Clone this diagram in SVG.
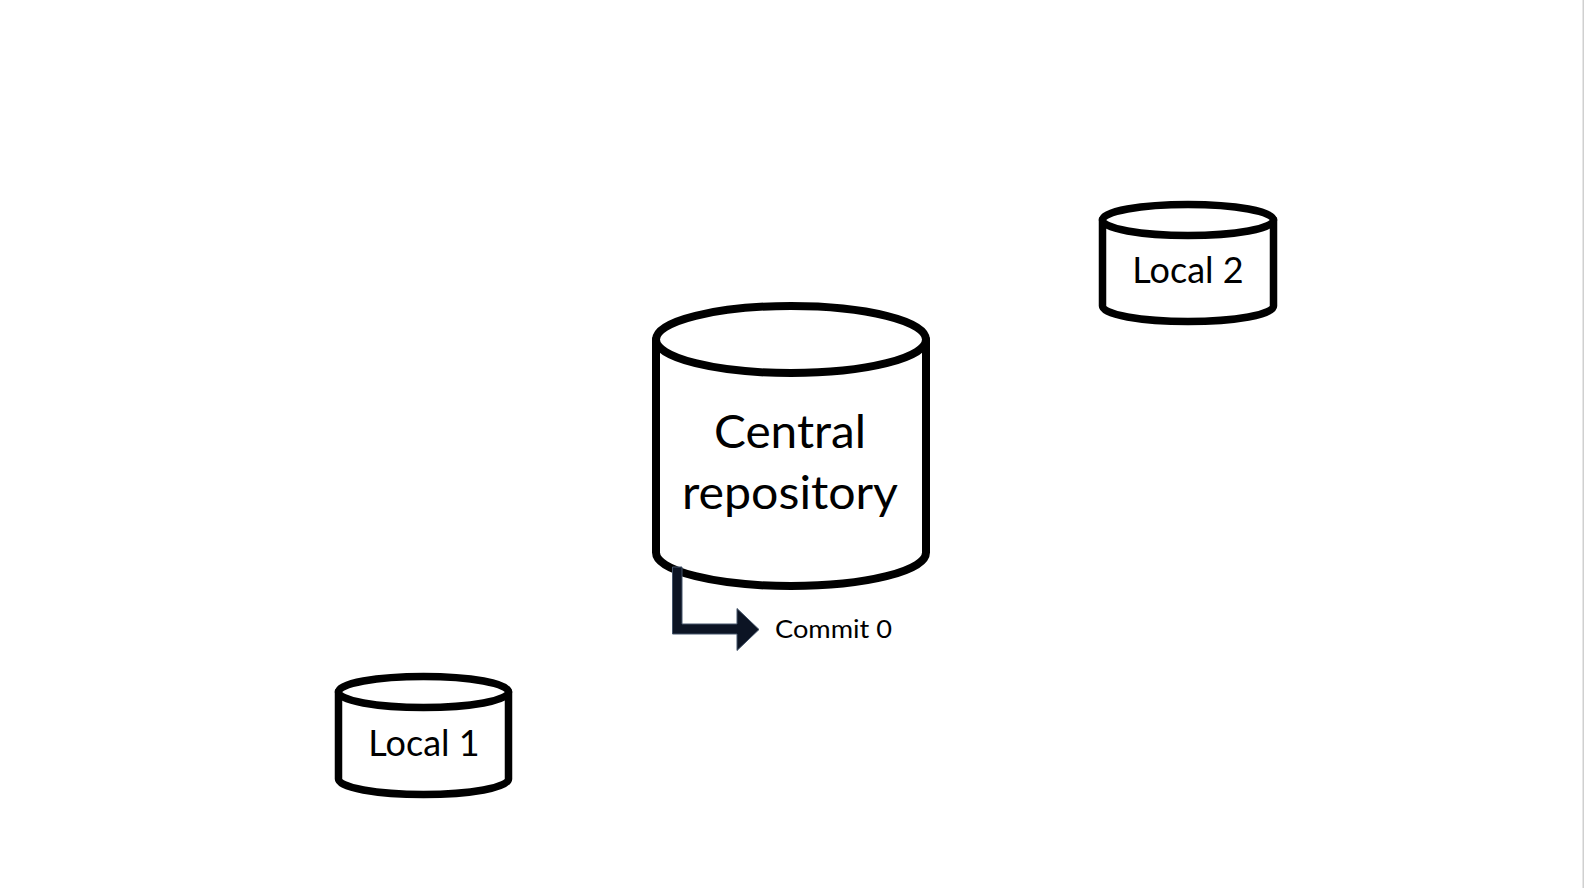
<svg xmlns="http://www.w3.org/2000/svg" width="1585" height="888" viewBox="0 0 1585 888">
<style>
.cyl{fill:#ffffff;stroke:#000000;stroke-linejoin:round}
.big{stroke-width:8}
.small{stroke-width:7.5}
.lbl{font-family:Lato,"Open Sans","Liberation Sans",sans-serif;fill:#000000;text-anchor:middle}
</style>
<rect x="0" y="0" width="1585" height="888" fill="#ffffff"/>
<rect x="1582.5" y="0" width="1.5" height="888" fill="#d0d0d0"/>
<g id="central">
<path class="cyl big" d="M656,339.5 L656,552.5 A135,33.5 0 0 0 926,552.5 L926,339.5 Z"/>
<ellipse class="cyl big" cx="791" cy="339.5" rx="135" ry="33.5"/>
<text class="lbl" x="790" y="448" font-size="47" textLength="152" lengthAdjust="spacingAndGlyphs">Central</text>
<text class="lbl" x="790" y="509" font-size="47" textLength="216" lengthAdjust="spacingAndGlyphs">repository</text>
</g>
<g id="local2">
<path class="cyl small" d="M1102.5,220 L1102.5,306 A85.5,15.5 0 0 0 1273.5,306 L1273.5,220 Z"/>
<ellipse class="cyl small" cx="1188" cy="220" rx="85.5" ry="15.5"/>
<text class="lbl" x="1188" y="283" font-size="36">Local 2</text>
</g>
<g id="local1">
<path class="cyl small" d="M338.5,692 L338.5,779 A85,15.5 0 0 0 508.5,779 L508.5,692 Z"/>
<ellipse class="cyl small" cx="423.5" cy="692" rx="85" ry="15.5"/>
<text class="lbl" x="424" y="756" font-size="36">Local 1</text>
</g>
<g id="connectors">
<polygon points="672.5,567 682,567 682,624 737,624 737,608.5 759,629.5 737,650.5 737,634 672.5,634" fill="#0c1424" stroke="#44546a" stroke-width="1"/>
</g>
<g id="commit0">
<text x="775" y="638" font-family="Lato,'Open Sans','Liberation Sans',sans-serif" font-size="25" textLength="117" lengthAdjust="spacingAndGlyphs" fill="#000000">Commit 0</text>
</g>
</svg>
